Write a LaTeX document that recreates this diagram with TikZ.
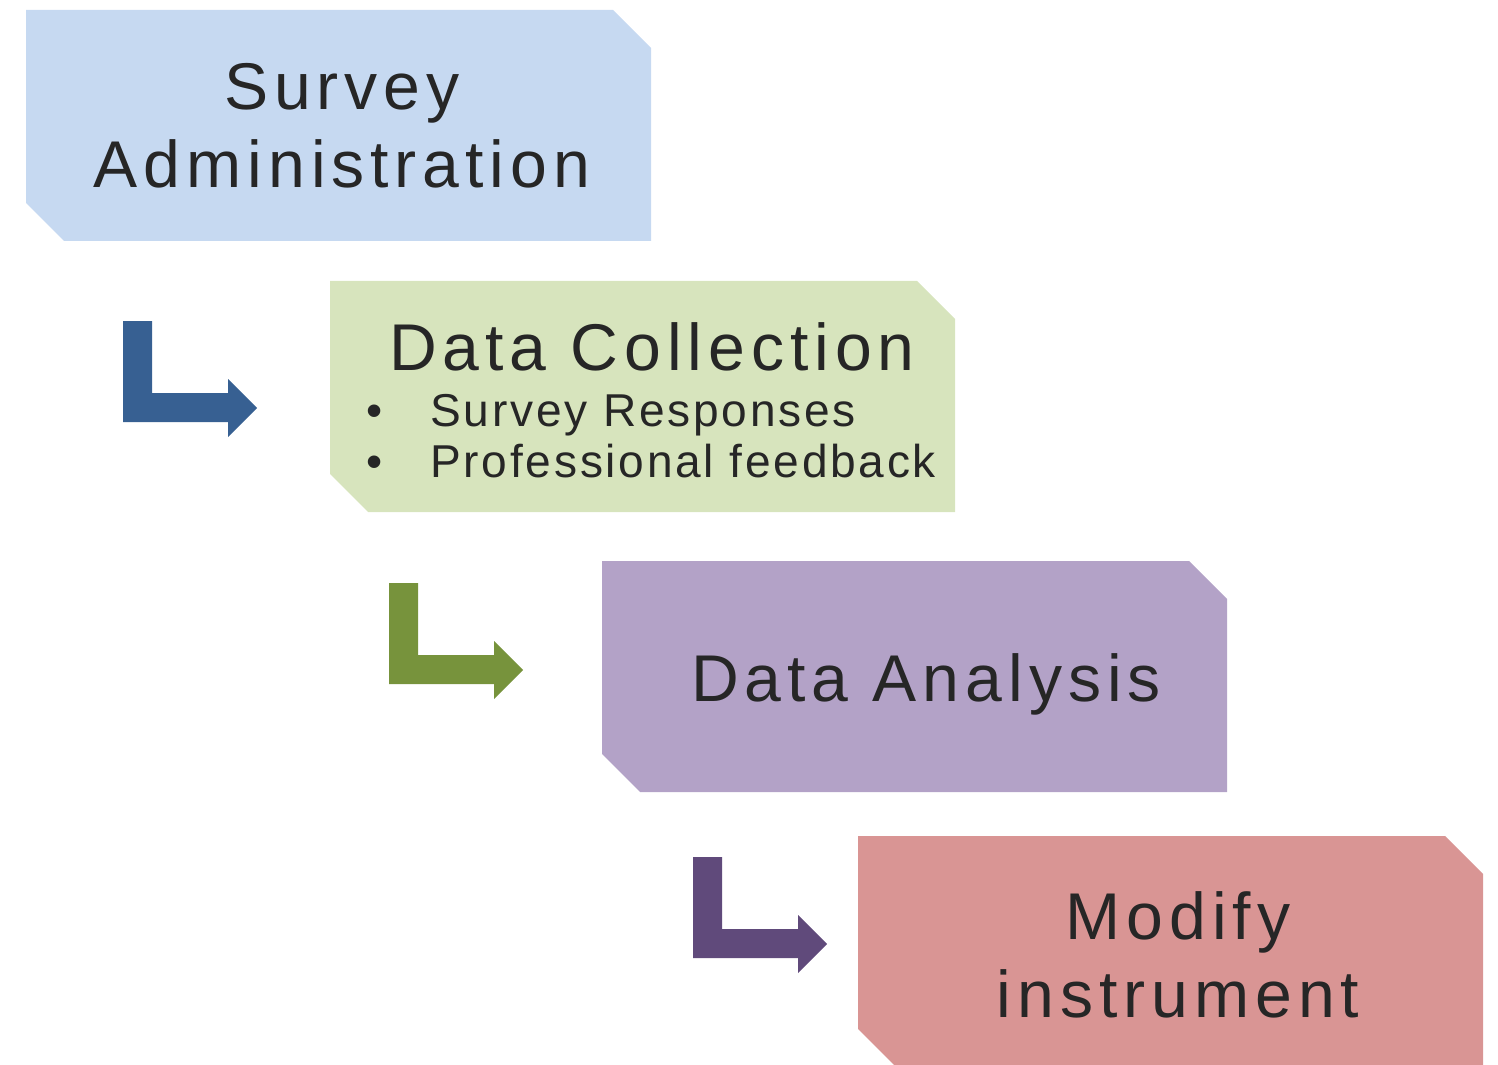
\documentclass[tikz,border=0pt]{standalone}
\usepackage{fontspec}
\setmainfont{Liberation Sans}
\newfontfamily\headfont[LetterSpace=9]{Liberation Sans}
\newfontfamily\itemfont[LetterSpace=6]{Liberation Sans}
\definecolor{boxblue}{HTML}{C6D9F1}
\definecolor{boxgreen}{HTML}{D7E4BD}
\definecolor{boxpurple}{HTML}{B3A2C7}
\definecolor{boxred}{HTML}{D99594}
\definecolor{arrblue}{HTML}{376092}
\definecolor{arrgreen}{HTML}{77933C}
\definecolor{arrpurple}{HTML}{604A7B}
\definecolor{ink}{HTML}{262626}
\tikzset{
  head/.style={text=ink,font=\headfont\fontsize{18.8}{22.2}\selectfont,align=center,inner sep=0pt},
  items/.style={text=ink,font=\itemfont\fontsize{13.1}{14.5}\selectfont,align=left,inner sep=0pt,anchor=north west}
}
\begin{document}
\begin{tikzpicture}[x=0.01cm,y=-0.01cm]
\useasboundingbox (0,0) rectangle (1498,1064);
% step boxes with cut corners
\foreach \x/\y/\c in {26/10/boxblue,330/281/boxgreen,602/561/boxpurple,858/836/boxred}
  \fill[\c] (\x,\y) -- ++(587,0) -- ++(38,38) -- ++(0,193) -- ++(-587,0) -- ++(-38,-38) -- cycle;
% bent arrows between the steps
\foreach \x/\y/\c in {123/321/arrblue,389/583/arrgreen,693/857/arrpurple}
  \fill[\c] (\x,\y) -- ++(29,0) -- ++(0,72) -- ++(76,0) -- ++(0,-14) -- ++(29,29) -- ++(-29,29) -- ++(0,-15) -- ++(-105,0) -- cycle;
\node[head] (admin) at (342,126) {Survey\\Administration};
\node[head,anchor=base] (collect) at (652,370) {Data Collection};
\node[items] (resp) at (366,394) {\textbullet\hspace{13.5pt}Survey Responses\\\textbullet\hspace{13.5pt}Professional feedback};
\node[head,anchor=base] (analysis) at (926,701) {Data Analysis};
\node[head] (modify) at (1178,955) {Modify\\instrument};
\end{tikzpicture}
\end{document}
